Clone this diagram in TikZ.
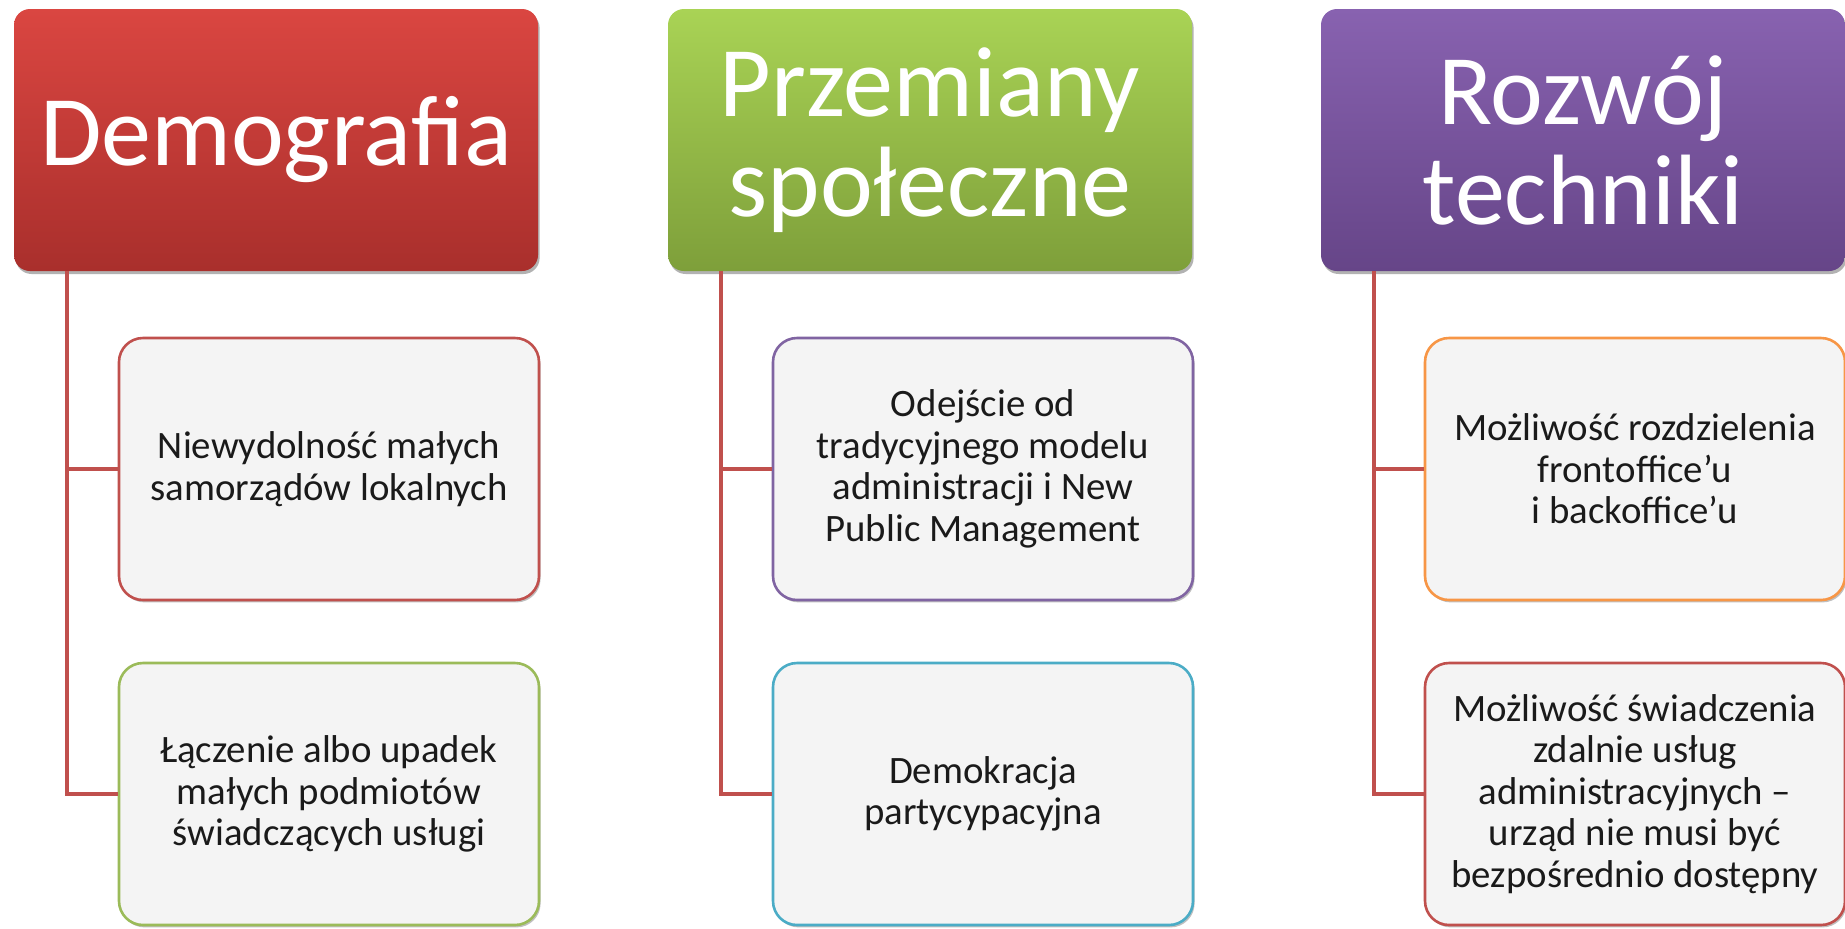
\documentclass[tikz,border=0pt]{standalone}
\usepackage{fontspec}
\setmainfont{Carlito}
\usetikzlibrary{shadows}
\definecolor{redT}{HTML}{DA4641}
\definecolor{redB}{HTML}{A92F2C}
\definecolor{grnT}{HTML}{A9D355}
\definecolor{grnB}{HTML}{7E9F3A}
\definecolor{purT}{HTML}{8862B0}
\definecolor{purB}{HTML}{664588}
\definecolor{cRed}{HTML}{C0504D}
\definecolor{cGrn}{HTML}{9BBB59}
\definecolor{cPur}{HTML}{8064A2}
\definecolor{cCyan}{HTML}{4BACC6}
\definecolor{cOra}{HTML}{F79646}
\definecolor{conn}{HTML}{C0504D}
\definecolor{boxfill}{HTML}{F4F4F4}
\definecolor{txt}{HTML}{1A1A1A}
\tikzset{
  hdr/.style={rounded corners=8pt, minimum width=262pt, minimum height=131pt,
    inner sep=0pt, align=center, text=white,
    font=\fontsize{50}{50}\selectfont,
    drop shadow={shadow xshift=0.8pt, shadow yshift=-1.5pt, opacity=0.3, fill=black}},
  child/.style={rounded corners=12pt, draw, line width=1.3pt, fill=boxfill,
    minimum width=210pt, minimum height=131pt, inner sep=0pt, align=center,
    text=txt, font=\fontsize{19.4}{20.8}\selectfont,
    drop shadow={shadow xshift=0.8pt, shadow yshift=-1.2pt, opacity=0.25, fill=black}},
  connline/.style={draw=conn, line width=2.1pt}
}
\begin{document}
\begin{tikzpicture}[x=0.5pt, y=-0.5pt]
\useasboundingbox (0,0) rectangle (1845,928);
% headers
\node[hdr, top color=redT, bottom color=redB] (h1) at (276,140) {Demografia};
\node[hdr, top color=grnT, bottom color=grnB] (h2) at (930,140) {Przemiany\\społeczne};
\node[hdr, top color=purT, bottom color=purB] (h3) at (1583,140) {Rozwój\\techniki};
% children
\node[child, draw=cRed]  (c11) at (329,469) {Niewydolność małych\\samorządów lokalnych};
\node[child, draw=cGrn]  (c12) at (329,794) {Łączenie albo upadek\\małych podmiotów\\świadczących usługi};
\node[child, draw=cPur]  (c21) at (983,469) {Odejście od\\tradycyjnego modelu\\administracji i New\\Public Management};
\node[child, draw=cCyan] (c22) at (983,794) {Demokracja\\partycypacyjna};
\node[child, draw=cOra]  (c31) at (1635,469) {Możliwość rozdzielenia\\frontoffice’u\\i backoffice’u};
\node[child, draw=cRed]  (c32) at (1635,794) {Możliwość świadczenia\\zdalnie usług\\administracyjnych –\\urząd nie musi być\\bezpośrednio dostępny};
% connectors
\coordinate (s1) at ([xshift=26.5pt]h1.south west);
\coordinate (s2) at ([xshift=26.5pt]h2.south west);
\coordinate (s3) at ([xshift=26.5pt]h3.south west);
\draw[connline] (s1) |- (c11.west);
\draw[connline] (s1) |- (c12.west);
\draw[connline] (s2) |- (c21.west);
\draw[connline] (s2) |- (c22.west);
\draw[connline] (s3) |- (c31.west);
\draw[connline] (s3) |- (c32.west);
\end{tikzpicture}
\end{document}
